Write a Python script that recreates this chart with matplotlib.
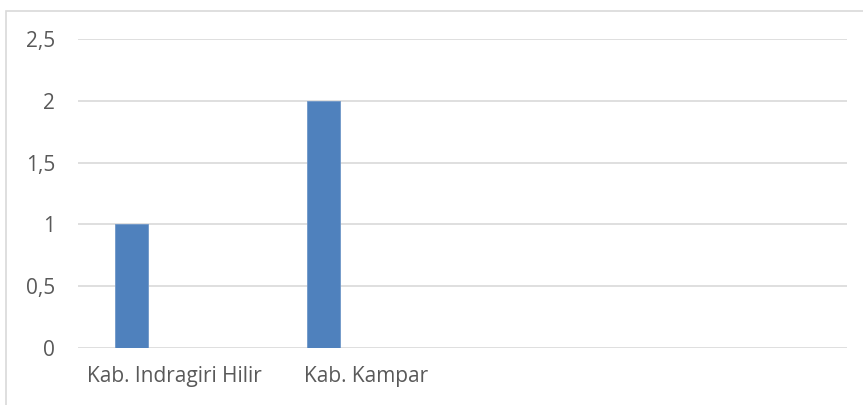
import numpy as np
import matplotlib.pyplot as plt
from matplotlib.patches import Rectangle

categories = ['Kab. Indragiri Hilir', 'Kab. Kampar', '', '']
values = [1, 2, np.nan, np.nan]
yticks = [0, 0.5, 1, 1.5, 2, 2.5]
ytick_labels = ['0', '0,5', '1', '1,5', '2', '2,5']

plt.rcParams['font.family'] = ['Open Sans', 'DejaVu Sans']

fig = plt.figure(figsize=(8.63, 4.05), dpi=100)
W, H = 863, 405

# chart frame (partly cropped)
fig.patches.append(Rectangle((6 / W, -0.1), 1.0, (H - 11) / H + 0.1,
                             transform=fig.transFigure, fill=False,
                             edgecolor='#d9d9d9', linewidth=1.2, clip_on=False))

ax = fig.add_axes([78 / W, (H - 348) / H, (847 - 78) / W, (348 - 39) / H])
x = np.arange(len(categories))
# bars sit in the first slot of an excel-style cluster
ax.bar(x - 0.223, values, width=0.172, color='#4f81bd', edgecolor='#6f97c8',
       linewidth=0.6, zorder=3)

ax.set_xlim(-0.5, len(categories) - 0.5)
ax.set_ylim(0, 2.5)
ax.set_yticks(yticks)
ax.set_yticklabels(ytick_labels)
ax.set_xticks(x)
ax.set_xticklabels(categories)
ax.yaxis.grid(True, color='#d9d9d9', linewidth=1.2, zorder=0)
ax.set_axisbelow(True)
for s in ax.spines.values():
    s.set_visible(False)
ax.tick_params(axis='y', length=0, pad=16.5, labelsize=15, labelcolor='#595959')
ax.tick_params(axis='x', length=0, pad=13, labelsize=15, labelcolor='#595959')

fig.savefig('out.png', dpi=100)
